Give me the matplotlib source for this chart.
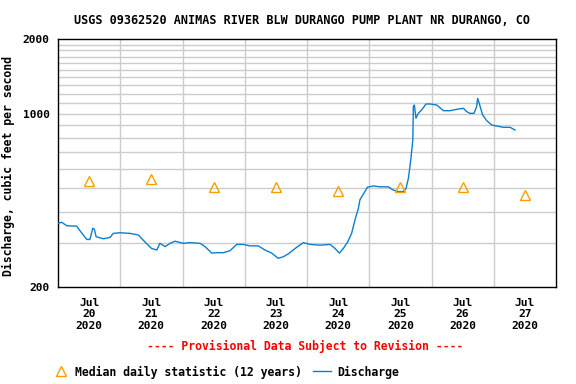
import matplotlib
matplotlib.use("Agg")
import matplotlib.pyplot as plt
from matplotlib.lines import Line2D
import numpy as np

# Hours since Jul 20 2020 00:00 and discharge (cfs)
hours = [0.1, 1.4, 3.4, 7.2, 8.5, 11.1, 12.3, 13.4, 14.0, 14.7, 17.5, 20.1, 21.3, 23.9,
         27.8, 31.0, 33.5, 36.1, 38.1, 39.3, 41.3, 43.2, 45.1, 48.3, 50.9, 54.8, 56.7,
         59.3, 61.2, 63.7, 66.3, 68.9, 71.4, 74.0, 77.2, 79.8, 82.4, 84.9, 86.9, 88.8,
         91.4, 94.6, 97.2, 101.0, 104.9, 106.8, 108.5, 110.0, 111.7, 113.2, 114.5, 115.8,
         116.4, 117.1, 119.3, 121.6, 124.1, 127.3, 129.3, 131.2, 133.1, 134.2, 135.1,
         136.0, 136.8, 137.0, 137.4, 138.0, 138.9, 140.2, 141.9, 143.4, 146.0, 148.6,
         151.1, 153.7, 156.3, 157.6, 158.8, 160.4, 161.4, 161.8, 162.4, 163.7, 165.3,
         167.2, 169.1, 171.7, 174.3, 176.2]
discharge = [361, 365, 353, 352, 337, 311, 311, 345, 342, 319, 313, 317, 329, 331,
             329, 324, 304, 286, 282, 300, 291, 300, 306, 300, 302, 300, 291,
             274, 275, 275, 280, 297, 297, 293, 293, 282, 274, 261, 265, 272,
             286, 302, 297, 295, 297, 286, 274, 286, 304, 329, 373, 415,
             449, 462, 505, 511, 507, 507, 492, 485, 485, 500, 549,
             650, 783, 1067, 1084, 958, 1003, 1035, 1094, 1094, 1084, 1028,
             1028, 1041, 1051, 1019, 1003, 1003, 1067, 1153, 1101, 988, 937,
             900, 892, 881, 881, 859]

median_hours = [12, 36, 60, 84, 108, 132, 156, 180]
median_vals = [535, 545, 506, 506, 488, 506, 506, 470]

day_labels = ["Jul\n20\n2020", "Jul\n21\n2020", "Jul\n22\n2020", "Jul\n23\n2020",
              "Jul\n24\n2020", "Jul\n25\n2020", "Jul\n26\n2020", "Jul\n27\n2020"]

FONT = "DejaVu Sans Mono"
BLUE = "#0a7fd0"
ORANGE = "#f5a000"
FS = 8.3

fig = plt.figure(figsize=(5.76, 3.84), dpi=100)
ax = fig.add_axes([58/576, 1-287/384, (556-58)/576, (287-39)/384])

ax.set_yscale("log")
ax.set_ylim(200, 2000)
ax.set_xlim(0, 192)

# grid
for v in list(range(300, 1000, 100)) + list(range(1000, 2000, 100)):
    ax.axhline(v, color="#cccccc", lw=1.0, zorder=0)
for d in range(1, 8):
    ax.axvline(d*24, color="#cccccc", lw=1.0, zorder=0)

ax.plot(hours, discharge, color=BLUE, lw=1.0, zorder=3)
ax.plot(median_hours, median_vals, linestyle="none", marker="^", markersize=7,
        markerfacecolor="none", markeredgecolor=ORANGE, markeredgewidth=1.0, zorder=4)

ax.set_yticks([200, 1000, 2000])
ax.set_yticklabels(["200", "1000", "2000"])
ax.yaxis.set_minor_locator(matplotlib.ticker.NullLocator())
ax.set_xticks(median_hours)
ax.set_xticklabels(day_labels)
ax.tick_params(length=0)
for lab in ax.get_xticklabels() + ax.get_yticklabels():
    lab.set_fontfamily(FONT)
    lab.set_fontweight("bold")
    lab.set_fontsize(8.1)
for lab in ax.get_xticklabels():
    lab.set_linespacing(1.15)
ax.tick_params(axis="x", pad=8)
ax.tick_params(axis="y", pad=6)

for s in ax.spines.values():
    s.set_color("black")
    s.set_linewidth(1.0)

fig.text(8.5/576, 1-166.5/384, "Discharge, cubic feet per second", rotation=90,
         ha="center", va="center", fontfamily=FONT, fontweight="bold", fontsize=FS)

fig.text(301.5/576, 1-20/384, "USGS 09362520 ANIMAS RIVER BLW DURANGO PUMP PLANT NR DURANGO, CO",
         ha="center", va="center", fontfamily=FONT, fontweight="bold", fontsize=8.5)
fig.text(305/576, 1-346/384, "---- Provisional Data Subject to Revision ----",
         ha="center", va="center", fontfamily=FONT, fontweight="bold", fontsize=FS,
         color="red")

# legend drawn manually
ly = 1 - 372/384
fig.add_artist(Line2D([60.5/576], [ly + 1/384], linestyle="none", marker="^", markersize=7,
                      markerfacecolor="none", markeredgecolor=ORANGE, markeredgewidth=1.0,
                      transform=fig.transFigure))
fig.text(75/576, ly, "Median daily statistic (12 years)", ha="left", va="center",
         fontfamily=FONT, fontweight="bold", fontsize=FS)
fig.add_artist(Line2D([313/576, 331/576], [ly + 1/384, ly + 1/384], color=BLUE, lw=1.0,
                      transform=fig.transFigure))
fig.text(337/576, ly, "Discharge", ha="left", va="center",
         fontfamily=FONT, fontweight="bold", fontsize=FS)

fig.savefig("out.png", dpi=100)
